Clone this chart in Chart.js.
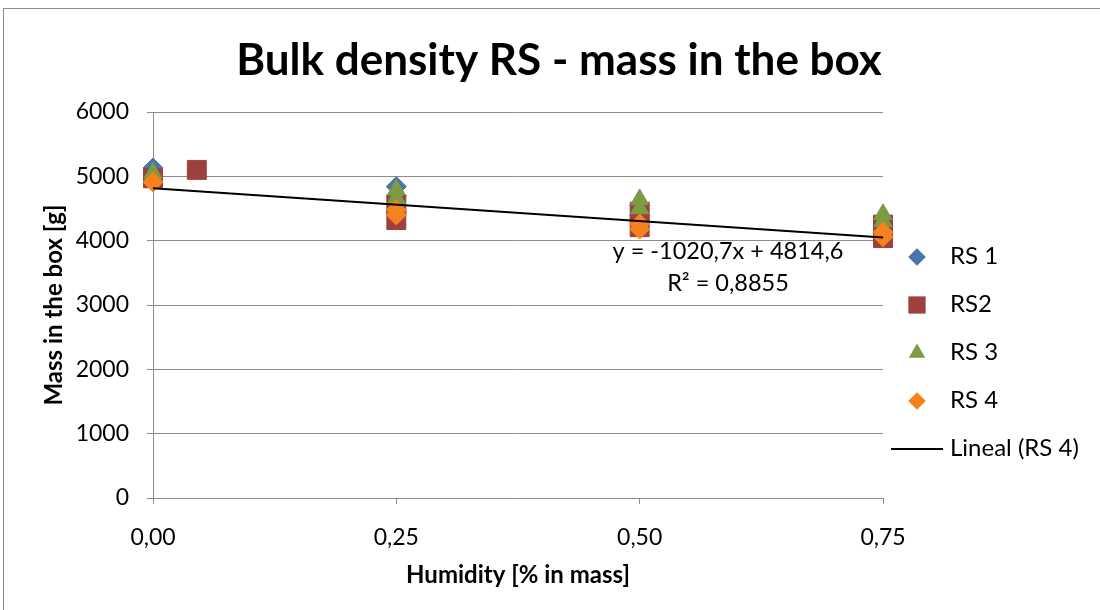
<!DOCTYPE html>
<html>
<head>
<meta charset="utf-8">
<title>Bulk density RS - mass in the box</title>
<script src="https://cdn.jsdelivr.net/npm/chart.js@4.4.1/dist/chart.umd.min.js"></script>
<style>
  html, body { margin: 0; padding: 0; background: #fff; overflow: hidden; }
  #wrap { width: 1100px; height: 610px; }
  canvas { display: block; }
</style>
</head>
<body>
<div id="wrap"><canvas id="chart" width="1100" height="610"></canvas></div>
<script>
// humidity [% in mass] and measured mass in the box [g] for each sample series
const rs1Humidity = [0, 0.25, 0.25, 0.5, 0.5, 0.75];
const rs1Mass     = [5130, 4840, 4700, 4550, 4400, 4240];

const rs2Humidity = [0, 0.045, 0.25, 0.25, 0.5, 0.5, 0.75, 0.75];
const rs2Mass     = [4970, 5100, 4560, 4320, 4450, 4210, 4250, 4040];

const rs3Humidity = [0, 0.25, 0.25, 0.5, 0.5, 0.75, 0.75];
const rs3Mass     = [5050, 4790, 4660, 4640, 4500, 4410, 4300];

const rs4Humidity = [0, 0.25, 0.25, 0.5, 0.5, 0.75, 0.75];
const rs4Mass     = [4910, 4480, 4400, 4260, 4180, 4130, 4060];

// linear fit of RS 4
const trendSlope = -1020.7;
const trendIntercept = 4814.6;
const trendR2 = 0.8855;
const trendRange = [0, 0.75];

const xTicks = [0, 0.25, 0.5, 0.75];
const yMax = 6000;
const yStep = 1000;

const FONT = 'Lato, "Open Sans", sans-serif';
const GRID = '#8c8c8c';

Chart.defaults.font.family = FONT;
Chart.defaults.color = '#000';

const toComma = v => String(v).replace('.', ',');
const points = (xs, ys) => xs.map((x, i) => ({ x: x, y: ys[i] }));

function seriesDataset(label, xs, ys, color, style, radius, order) {
  return {
    label: label,
    data: points(xs, ys),
    pointStyle: style,
    pointRadius: radius,
    pointHoverRadius: radius,
    pointBackgroundColor: color,
    pointBorderColor: color,
    pointBorderWidth: 1,
    showLine: false,
    clip: false,
    order: order,
    legendRadius: style === 'rect' ? 12.2 : (style === 'triangle' ? 9.5 : 8.8)
  };
}

const datasets = [
  seriesDataset('RS 1', rs1Humidity, rs1Mass, '#4a74aa', 'rectRot', 10, 4),
  seriesDataset('RS2', rs2Humidity, rs2Mass, '#9e413e', 'rect', 13.4, 3),
  seriesDataset('RS 3', rs3Humidity, rs3Mass, '#7b9c44', 'triangle', 10.5, 2),
  seriesDataset('RS 4', rs4Humidity, rs4Mass, '#f6821f', 'rectRot', 10, 1),
  {
    label: 'Lineal (RS 4)',
    data: trendRange.map(x => ({ x: x, y: trendSlope * x + trendIntercept })),
    showLine: true,
    borderColor: '#000',
    borderWidth: 2,
    pointRadius: 0,
    pointHoverRadius: 0,
    pointStyle: 'line',
    clip: false,
    order: 0
  }
];

// legend marker shapes, same geometry as the chart's point styles
function drawMarker(ctx, style, x, y, r, color) {
  ctx.fillStyle = color;
  ctx.strokeStyle = color;
  ctx.beginPath();
  if (style === 'rectRot') {
    ctx.moveTo(x, y - r);
    ctx.lineTo(x + r, y);
    ctx.lineTo(x, y + r);
    ctx.lineTo(x - r, y);
    ctx.closePath();
    ctx.fill();
  } else if (style === 'rect') {
    const h = r * Math.SQRT1_2;
    ctx.rect(x - h, y - h, h * 2, h * 2);
    ctx.fill();
  } else if (style === 'triangle') {
    ctx.moveTo(x, y - r);
    ctx.lineTo(x + r * Math.sin(Math.PI / 3), y + r / 2);
    ctx.lineTo(x - r * Math.sin(Math.PI / 3), y + r / 2);
    ctx.closePath();
    ctx.fill();
  } else {
    ctx.lineWidth = 2;
    ctx.moveTo(x - 26, y);
    ctx.lineTo(x + 26, y);
    ctx.stroke();
  }
}

const chartDecor = {
  id: 'chartDecor',
  beforeDraw(chart) {
    const ctx = chart.ctx;
    ctx.save();
    ctx.fillStyle = '#fff';
    ctx.fillRect(0, 0, chart.width, chart.height);
    ctx.strokeStyle = GRID;
    ctx.lineWidth = 1;
    ctx.strokeRect(3.5, 8.5, chart.width + 20, chart.height + 20);
    ctx.restore();
  },
  afterDraw(chart) {
    const ctx = chart.ctx;
    ctx.save();
    ctx.fillStyle = '#000';
    ctx.textBaseline = 'alphabetic';

    // chart title
    ctx.textAlign = 'center';
    ctx.font = 'bold 44px ' + FONT;
    ctx.fillText('Bulk density RS - mass in the box', 559, 75);

    // trendline equation
    ctx.font = '23.5px ' + FONT;
    ctx.fillText('y = ' + toComma(trendSlope) + 'x + ' + toComma(trendIntercept), 728, 259);
    ctx.fillText('R\u00b2 = ' + toComma(trendR2), 728, 291);

    // legend
    ctx.textAlign = 'left';
    ctx.font = '24px ' + FONT;
    chart.data.datasets.forEach((ds, i) => {
      const base = 264 + i * 48;
      drawMarker(ctx, ds.pointStyle, 917, base - 7, ds.legendRadius, ds.pointBackgroundColor || ds.borderColor);
      ctx.fillStyle = '#000';
      ctx.fillText(ds.label, 950, base);
    });
    ctx.restore();
  }
};

new Chart(document.getElementById('chart'), {
  type: 'scatter',
  data: { datasets: datasets },
  options: {
    responsive: false,
    animation: false,
    devicePixelRatio: 1,
    events: [],
    layout: { padding: { left: 10, top: 112, right: 217, bottom: 0 } },
    plugins: {
      legend: { display: false },
      tooltip: { enabled: false },
      title: { display: false }
    },
    scales: {
      x: {
        type: 'linear',
        min: xTicks[0],
        max: xTicks[xTicks.length - 1],
        afterBuildTicks: s => { s.ticks = xTicks.map(v => ({ value: v })); },
        ticks: {
          color: '#000',
          font: { size: 23 },
          padding: 20,
          maxRotation: 0,
          autoSkip: false,
          callback: v => Number(v).toFixed(2).replace('.', ',')
        },
        grid: { drawOnChartArea: false, color: GRID, tickLength: 6 },
        border: { color: GRID },
        title: {
          display: true,
          text: 'Humidity [% in mass]',
          color: '#000',
          font: { size: 24, weight: 'bold' },
          padding: { top: 0, bottom: 20 }
        },
        afterFit: s => { s.height = 112; }
      },
      y: {
        min: 0,
        max: yMax,
        ticks: {
          stepSize: yStep,
          color: '#000',
          font: { size: 23 },
          padding: 18,
          callback: v => String(v)
        },
        grid: { color: GRID, tickLength: 6 },
        border: { color: GRID },
        title: {
          display: true,
          text: 'Mass in the box [g]',
          color: '#000',
          font: { size: 24, weight: 'bold' },
          padding: { top: 30, bottom: 0 }
        },
        afterFit: s => { s.width = 143; }
      }
    }
  },
  plugins: [chartDecor]
});
</script>
</body>
</html>
